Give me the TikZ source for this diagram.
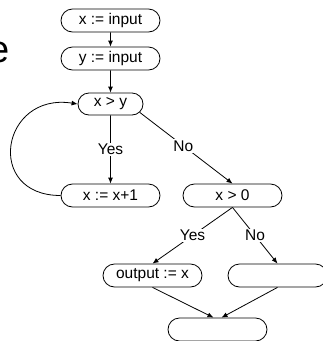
\documentclass[tikz,border=0pt]{standalone}
\usepackage{fontspec}
\setmainfont{Liberation Sans}
\usetikzlibrary{arrows.meta,shapes.misc}
\begin{document}
\begin{tikzpicture}[x=1pt,y=-1pt,
  box/.style={draw, rounded rectangle, minimum width=99pt, minimum height=23pt, inner sep=0pt, line width=0.8pt, font=\fontsize{15.5}{18}\selectfont},
  conn/.style={line width=0.8pt, -{Latex[length=6pt,width=5pt]}},
  lbl/.style={fill=white, inner sep=1.5pt, font=\fontsize{15.5}{18}\selectfont}]
\clip (0,0) rectangle (323,341);
\node[anchor=base east, inner sep=0pt, font=\fontsize{38}{40}\selectfont] (ttl) at (10,62) {e};
\node[box] (a) at (110.5,20.5) {x := input};
\node[box] (b) at (110.5,58.5) {y := input};
\node[box, minimum width=65pt, minimum height=22pt] (c) at (110.5,104) {x > y};
\node[box] (d) at (110.5,195.5) {x := x+1};
\node[box] (e) at (232.5,195.5) {x > 0};
\node[box] (f) at (152.5,275.5) {output := x};
\node[box] (g) at (277.5,275.5) {};
\node[box] (h) at (217.5,329.5) {};
\draw[conn] (a) -- (b);
\draw[conn] (b) -- (c);
\draw[conn] (c) -- node[lbl]{Yes} (d);
\draw[conn] (c.-16) -- node[lbl, pos=0.47]{No} (e.north);
\draw[conn] (e.south) -- node[lbl]{Yes} (f.north);
\draw[conn] (e.south) -- node[lbl]{No} (g.north);
\draw[conn] (f.south) -- ([xshift=-4pt]h.north);
\draw[conn] (g.south) -- ([xshift=4pt]h.north);
\draw[conn] (d.west) .. controls (-16,195.5) and (1,92) .. (c.west);
\end{tikzpicture}
\end{document}
